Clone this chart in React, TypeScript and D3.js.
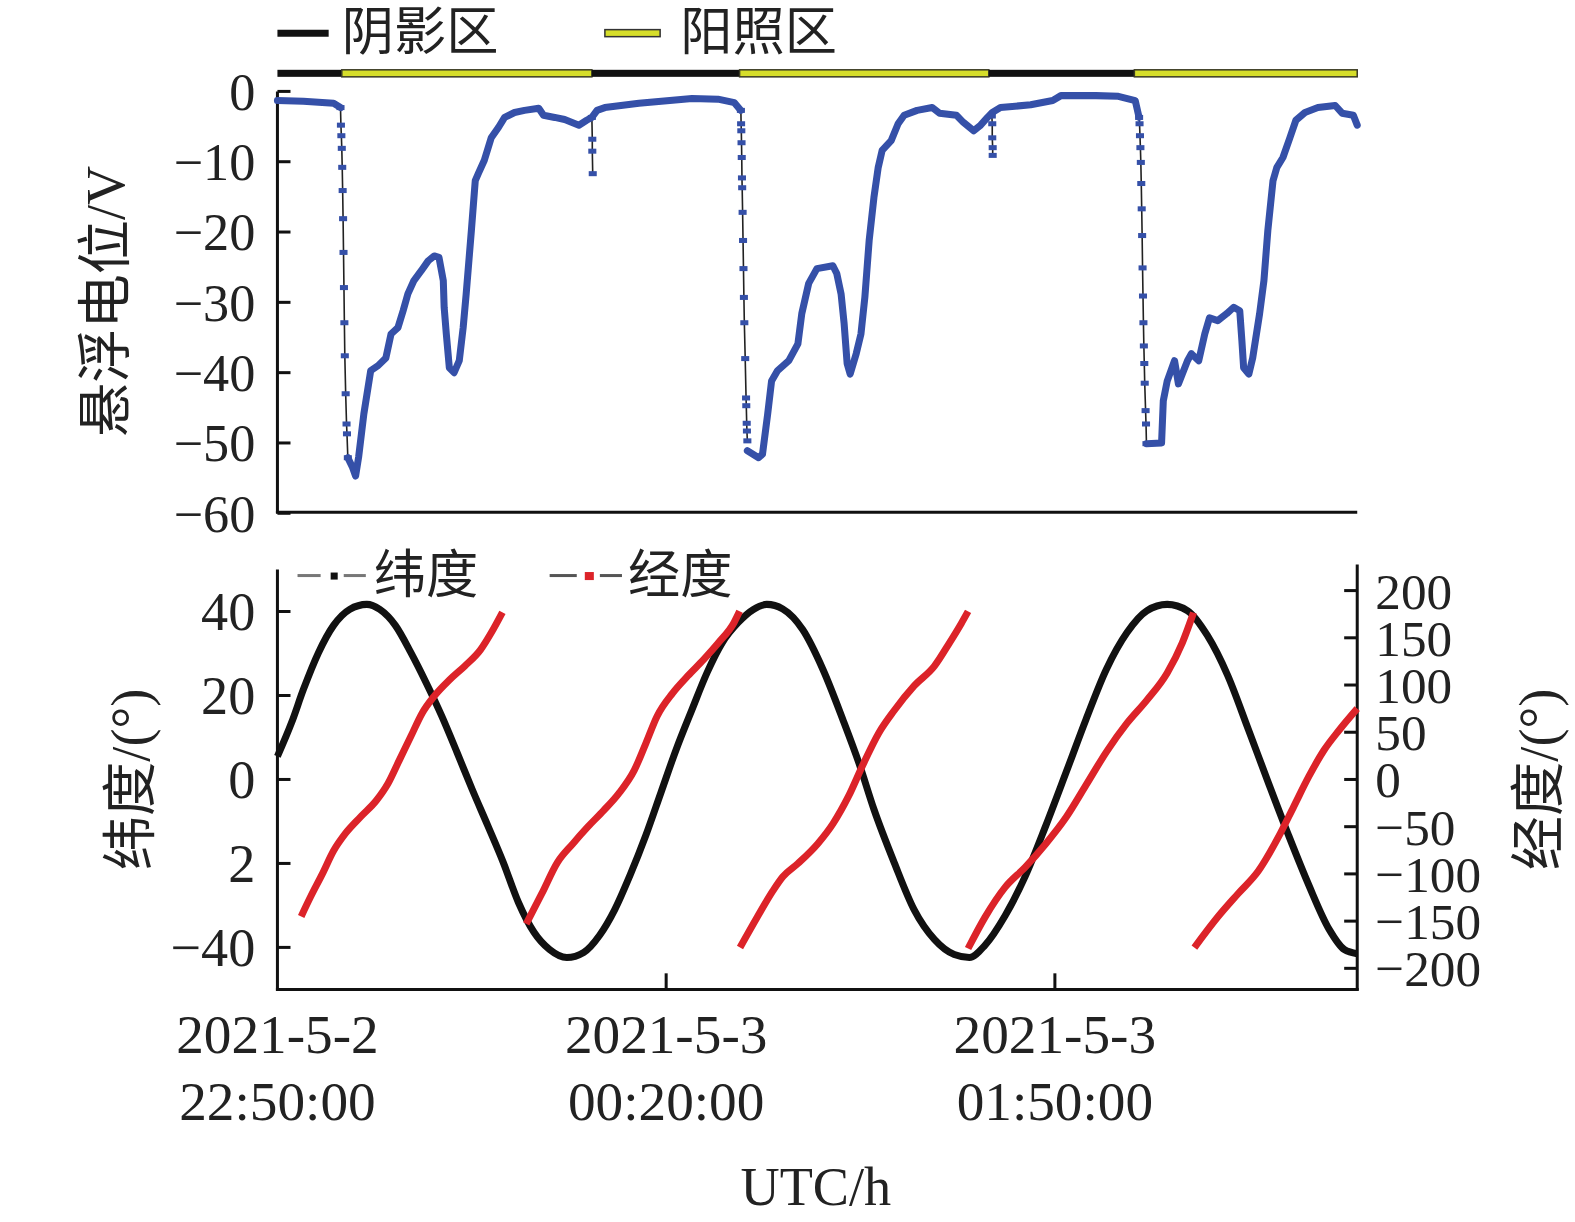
import React, { useEffect } from "react";
import * as d3 from "d3";

// time is stored as minutes after 2021-05-02 22:50:00 UTC
const START = Date.UTC(2021, 4, 2, 22, 50);
const SPAN_MIN = 250;

// illumination bar: [from, to, kind]
const sunBar: [number, number, "shadow" | "sun"][] = [
  [0, 14.9, "shadow"],
  [14.9, 72.8, "sun"],
  [72.8, 107.0, "shadow"],
  [107.0, 164.7, "sun"],
  [164.7, 198.4, "shadow"],
  [198.4, 250, "sun"],
];

// floating potential (V), the dense parts
const potentialA: [number, number][] = [
  [0, -1.3], [6, -1.4], [13.0, -1.7], [14.6, -2.3],
];
const potentialB: [number, number][] = [
  [16.3, -52.1], [17.4, -53.5], [18.1, -54.7], [18.8, -52], [20.0, -45.9],
  [21.6, -39.7], [23.3, -39], [25.1, -37.9], [26.3, -34.5], [27.9, -33.6],
  [29.1, -31.2], [30.2, -28.8], [31.6, -26.9], [33.3, -25.5], [34.9, -24.1],
  [36.3, -23.4], [37.4, -23.6], [38.4, -26.9], [38.6, -30.7], [39.1, -34.5],
  [39.8, -39.3], [40.9, -40], [42.1, -38.3], [43.0, -33.6], [43.7, -28.8],
  [44.9, -19.8], [45.8, -12.7], [46.5, -11.7], [47.9, -9.8], [49.5, -6.6],
  [51.2, -5.1], [52.6, -3.7], [54.9, -3], [57.2, -2.7], [60.5, -2.4],
  [61.6, -3.4], [64.2, -3.7], [66.5, -4], [69.8, -4.8], [71.6, -4.1],
  [72.8, -3.7], [74.0, -2.7], [75.8, -2.3], [83.7, -1.7], [96.0, -1.0],
  [102.0, -1.1], [105.8, -1.6], [107.3, -2.7],
];
const potentialC: [number, number][] = [
  [108.8, -51.1], [111.4, -52.1], [112.3, -51.6], [113.5, -45.9], [114.4, -41.2],
  [115.8, -39.7], [118.4, -38.3], [120.5, -35.9], [121.4, -31.6], [123.0, -27.3],
  [124.9, -25.2], [128.6, -24.8], [129.5, -25.9], [130.5, -28.8], [131.2, -33],
  [131.9, -38.7], [132.6, -40.2], [134.0, -37.3], [135.1, -34.5], [136.0, -29.3],
  [137.0, -21.2], [138.1, -15.1], [139.1, -10.8], [140.0, -8.4], [142.1, -7],
  [143.7, -4.6], [145.1, -3.4], [148.1, -2.7], [151.6, -2.3], [153.3, -3.1],
  [157.2, -3.4], [158.8, -4.4], [161.2, -5.6], [162.8, -4.8], [164.4, -3.7],
  [165.5, -3.0], [167.4, -2.3], [174.4, -1.9], [179.5, -1.3], [181.4, -0.6],
  [189.5, -0.6], [194.7, -0.7], [198.6, -1.3], [199.5, -3.7],
];
const potentialD: [number, number][] = [
  [201.2, -50.1], [204.7, -50], [205.1, -44], [206.0, -41.2], [207.7, -38.3],
  [208.6, -41.6], [210.7, -38.3], [211.6, -37.3], [213.3, -38.3], [214.7, -34.5],
  [215.8, -32.2], [217.7, -32.6], [219.8, -31.6], [221.4, -30.7], [222.8, -31.2],
  [223.3, -35.5], [223.7, -39.3], [224.9, -40.2], [225.8, -37.9], [227.4, -31.6],
  [228.4, -26.9], [229.3, -19.8], [230.5, -12.7], [231.4, -10.8], [232.8, -9.4],
  [234.4, -6.6], [235.8, -4.1], [237.9, -3], [240.9, -2.3], [244.9, -2],
  [246.5, -3.1], [249.1, -3.4], [250, -4.8],
];

// sparse samples in the fast drops and the short spikes
const potentialDrops: [number, number][][] = [
  [
    [14.6, -2.3], [14.7, -4.8], [14.8, -6.3], [14.9, -8.1], [15.0, -10.8],
    [15.1, -14.1], [15.2, -18.1], [15.3, -22.9], [15.4, -27.9], [15.5, -32.9],
    [15.6, -37.6], [15.8, -43], [16.0, -47.3], [16.1, -48.7], [16.3, -52.1],
  ],
  [
    [107.3, -2.7], [107.35, -4.6], [107.4, -5.6], [107.45, -7.3], [107.5, -9.4],
    [107.55, -12.3], [107.6, -13.7], [107.7, -17.2], [107.8, -21.2], [107.9, -25.2],
    [108.0, -29.3], [108.1, -32.9], [108.3, -38], [108.5, -43.6], [108.55, -44.7],
    [108.65, -47.2], [108.7, -48.3], [108.8, -49.7],
  ],
  [
    [199.5, -3.7], [199.6, -4.6], [199.7, -6.3], [199.8, -8], [199.9, -10.1],
    [200.0, -13.1], [200.1, -16.7], [200.2, -20.5], [200.3, -25.1], [200.4, -29.1],
    [200.5, -32.9], [200.6, -36.2], [200.7, -38.7], [200.8, -41.5], [201.0, -45.4],
    [201.1, -47.3], [201.2, -50.1],
  ],
  [[72.8, -3.7], [72.9, -6.8], [72.9, -8.5], [73.0, -11.7]],
  [[165.4, -3.5], [165.5, -4.6], [165.5, -6.6], [165.6, -8], [165.6, -9.1]],
];

// latitude (deg)
const latitude: [number, number][] = [
  [0, 5.5], [3.3, 13.6], [6.0, 21.4], [9.5, 30.2], [13.0, 36.7], [16.7, 40.5],
  [20.7, 41.7], [23.7, 40.5], [27.3, 36.7], [30.9, 30.2], [34.4, 23.1],
  [38.0, 15.2], [41.6, 6.4], [45.1, -2.4], [48.7, -11], [52.3, -19.8],
  [55.8, -29.3], [59.4, -36.4], [63.0, -40.5], [67.0, -42.4], [70.9, -41.2],
  [74.6, -37.1], [78.1, -31], [81.6, -22.9], [85.3, -13.3], [88.8, -3.1],
  [92.3, 7.1], [96.0, 16.7], [99.5, 25.5], [103.0, 32.6], [106.7, 37.4],
  [110.2, 40.5], [113.3, 41.7], [117.0, 40.6], [121.6, 35.7], [126.3, 26.2],
  [130.9, 14.3], [134.6, 4], [138.1, -7.1], [142.8, -19.8], [147.4, -31],
  [152.1, -38.1], [156.7, -41.7], [160.2, -42.4], [163.8, -39.5], [168.5, -32.4],
  [173.2, -22.9], [177.9, -11], [182.6, 1.7], [187.2, 14.3], [191.9, 26.2],
  [196.7, 35], [201.3, 40.2], [206.0, 41.7], [210.7, 40.2], [215.3, 34.3],
  [220.0, 24.8], [224.8, 11.9], [229.4, -0.7], [234.1, -13.3], [238.8, -25.2],
  [243.5, -35.7], [247.0, -40.5], [250, -41.5],
];

// longitude (deg), one array per pass from -180 to 180
const longitude: [number, number][][] = [
  [
    [5.5, -145], [7.7, -124], [10.4, -100], [13.0, -75.5], [15.7, -57.4],
    [19.3, -39.4], [22.9, -22.3], [25.6, -4.3], [28.2, 20.2], [30.9, 45.7],
    [33.5, 70.2], [36.3, 88.3], [39.8, 105.3], [43.4, 120.2], [47.0, 137.2],
    [49.5, 155.3], [52.1, 177],
  ],
  [
    [57.6, -153], [61.2, -121], [64.8, -88], [68.4, -68], [71.9, -50],
    [75.5, -33], [79.0, -15], [82.6, 9.6], [85.3, 38.3], [87.9, 67],
    [91.5, 91.5], [95.0, 109.6], [98.6, 126.6], [102.1, 144.7], [105.7, 166],
    [107.0, 178],
  ],
  [
    [107.1, -178], [111.1, -145.7], [114.7, -118], [117.0, -103], [120.5, -89],
    [125.1, -68], [128.6, -47], [132.2, -18], [135.7, 17], [139.2, 49],
    [142.8, 73], [147.4, 99], [152.1, 120], [155.6, 144.7], [158.3, 165],
    [159.9, 178],
  ],
  [
    [159.9, -179], [163.8, -146], [168.5, -114], [173.2, -92.6], [177.9, -68],
    [182.6, -40], [187.2, -6], [191.9, 29], [196.7, 59.6], [201.3, 84],
    [206.0, 112.8], [209.5, 144.7], [212.1, 176.6],
  ],
  [
    [212.3, -178], [217.7, -145.7], [222.4, -121], [227.1, -97], [231.8, -60.6],
    [235.3, -28.7], [238.8, 3.2], [242.3, 30.9], [245.8, 52.1], [250, 75],
  ],
];

const potentialTicks = [0, -10, -20, -30, -40, -50, -60];
const latTicks = [40, 20, 0, -20, -40];
const latTickLabels = ["40", "20", "0", "2", "\u221240"];
const lonTicks = [200, 150, 100, 50, 0, -50, -100, -150, -200];
const timeTicks = [0, 90, 180];

const minus = (v: number) => (v < 0 ? "\u2212" + Math.abs(v) : String(v));
const at = (m: number) => new Date(START + m * 60000);

const FONT = '"Liberation Serif", "Times New Roman", "Noto Sans CJK SC", serif';
const BLUE = "#3550a8";
const RED = "#dc2329";
const YELLOW = "#d6de2a";
const INK = "#111";

export default function App() {
  useEffect(() => {
    document.body.style.margin = "0";
  }, []);

  const x = d3.scaleTime().domain([at(0), at(SPAN_MIN)]).range([277, 1352]);
  const yPot = d3.scaleLinear().domain([-60, 0]).range([511, 91]);
  const yLat = d3.scaleLinear().domain([-50, 50]).range([985, 567]);
  const yLon = d3.scaleLinear().domain([-222.3, 222.3]).range([985, 567]);

  const potLine = d3
    .line<[number, number]>()
    .x((d) => x(at(d[0])))
    .y((d) => yPot(d[1]));
  const latLine = d3
    .line<[number, number]>()
    .x((d) => x(at(d[0])))
    .y((d) => yLat(d[1]))
    .curve(d3.curveMonotoneX);
  const lonLine = d3
    .line<[number, number]>()
    .x((d) => x(at(d[0])))
    .y((d) => yLon(d[1]))
    .curve(d3.curveMonotoneX);

  const fmtDate = d3.utcFormat("%Y-%-m-%-d");
  const fmtTime = d3.utcFormat("%H:%M:%S");

  return (
    <svg width={1575} height={1222} style={{ display: "block", background: "#fff" }} fontFamily={FONT}>
      <g transform="translate(-0.8,0) scale(1.00446)">
        {/* legend of the illumination bar */}
        <line x1={277} x2={328} y1={33} y2={33} stroke={INK} strokeWidth={7} />
        <text x={341} y={50} fontSize={52} fill="#222">阴影区</text>
        <rect x={603} y={29.5} width={55} height={7} fill={YELLOW} stroke="#333" strokeWidth={1.5} />
        <text x={678} y={50} fontSize={52} fill="#222">阳照区</text>

        {/* illumination bar */}
        {sunBar.map(([a, b, kind], i) => (
          <rect
            key={"bar" + i}
            x={x(at(a))}
            y={69.5}
            width={x(at(b)) - x(at(a))}
            height={7}
            fill={kind === "sun" ? YELLOW : INK}
            stroke={kind === "sun" ? "#3b3b24" : "none"}
            strokeWidth={1.5}
          />
        ))}

        {/* top panel axes */}
        <line x1={277} x2={277} y1={yPot(0)} y2={511} stroke={INK} strokeWidth={3} />
        <line x1={275.5} x2={1352} y1={510} y2={510} stroke={INK} strokeWidth={3} />
        {potentialTicks.map((v) => (
          <g key={"pt" + v}>
            <line x1={277} x2={290} y1={yPot(v)} y2={yPot(v)} stroke={INK} strokeWidth={3} />
            <text x={255} y={yPot(v)} dy="0.35em" fontSize={52} textAnchor="end" fill="#222">
              {minus(v)}
            </text>
          </g>
        ))}
        <text
          transform="translate(105,300) rotate(-90)"
          fontSize={54}
          textAnchor="middle"
          dy="0.35em"
          fill="#222"
        >
          悬浮电位/V
        </text>

        {/* floating potential */}
        {potentialDrops.map((seg, i) => (
          <g key={"drop" + i}>
            <path d={potLine(seg) ?? ""} fill="none" stroke="#222" strokeWidth={1.6} />
            {seg.map((d, j) => (
              <rect
                key={j}
                x={x(at(d[0])) - 4}
                y={yPot(d[1]) - 2.5}
                width={8}
                height={5}
                fill={BLUE}
              />
            ))}
          </g>
        ))}
        {[potentialA, potentialB, potentialC, potentialD].map((seg, i) => (
          <path
            key={"pot" + i}
            d={potLine(seg) ?? ""}
            fill="none"
            stroke={BLUE}
            strokeWidth={7}
            strokeLinejoin="round"
            strokeLinecap="round"
          />
        ))}

        {/* bottom panel axes */}
        <line x1={277} x2={277} y1={567} y2={986} stroke={INK} strokeWidth={3} />
        <line x1={1352} x2={1352} y1={562} y2={986} stroke={INK} strokeWidth={3} />
        <line x1={275.5} x2={1353.5} y1={985} y2={985} stroke={INK} strokeWidth={3} />
        {latTicks.map((v, i) => (
          <g key={"lt" + v}>
            <line x1={277} x2={290} y1={yLat(v)} y2={yLat(v)} stroke={INK} strokeWidth={3} />
            <text x={255} y={yLat(v)} dy="0.35em" fontSize={54} textAnchor="end" fill="#222">
              {latTickLabels[i]}
            </text>
          </g>
        ))}
        {lonTicks.map((v) => (
          <g key={"ln" + v}>
            <line x1={1339} x2={1352} y1={yLon(v)} y2={yLon(v)} stroke={INK} strokeWidth={3} />
            <text x={1370} y={yLon(v)} dy="0.35em" fontSize={51} textAnchor="start" fill="#222">
              {minus(v)}
            </text>
          </g>
        ))}
        {timeTicks.map((m) => (
          <g key={"tt" + m}>
            {m > 0 && (
              <line x1={x(at(m))} x2={x(at(m))} y1={985} y2={969} stroke={INK} strokeWidth={3} />
            )}
            <text x={x(at(m))} y={1048} fontSize={55} textAnchor="middle" fill="#222">
              {fmtDate(at(m))}
            </text>
            <text x={x(at(m))} y={1115} fontSize={55} textAnchor="middle" fill="#222">
              {fmtTime(at(m))}
            </text>
          </g>
        ))}
        <text x={813} y={1200} fontSize={54} textAnchor="middle" fill="#222">UTC/h</text>
        <text
          transform="translate(130,776) rotate(-90)"
          fontSize={54}
          textAnchor="middle"
          dy="0.35em"
          fill="#222"
        >
          纬度/(°)
        </text>
        <text
          transform="translate(1532,776) rotate(-90)"
          fontSize={54}
          textAnchor="middle"
          dy="0.35em"
          fill="#222"
        >
          经度/(°)
        </text>

        {/* latitude and longitude */}
        <path d={latLine(latitude) ?? ""} fill="none" stroke={INK} strokeWidth={7} strokeLinejoin="round" />
        {longitude.map((seg, i) => (
          <path key={"lon" + i} d={lonLine(seg) ?? ""} fill="none" stroke={RED} strokeWidth={7} />
        ))}

        {/* bottom legend */}
        <line x1={297} x2={320} y1={573} y2={573} stroke="#777" strokeWidth={3} />
        <rect x={330} y={570} width={7} height={7} fill={INK} />
        <line x1={343} x2={365} y1={573} y2={573} stroke="#777" strokeWidth={3} />
        <text x={373} y={590} fontSize={52} fill="#222">纬度</text>
        <line x1={548} x2={575} y1={573} y2={573} stroke="#555" strokeWidth={3} />
        <rect x={583} y={569.5} width={9} height={8} fill={RED} />
        <line x1={598} x2={620} y1={573} y2={573} stroke="#555" strokeWidth={3} />
        <text x={626} y={590} fontSize={52} fill="#222">经度</text>
      </g>
    </svg>
  );
}
